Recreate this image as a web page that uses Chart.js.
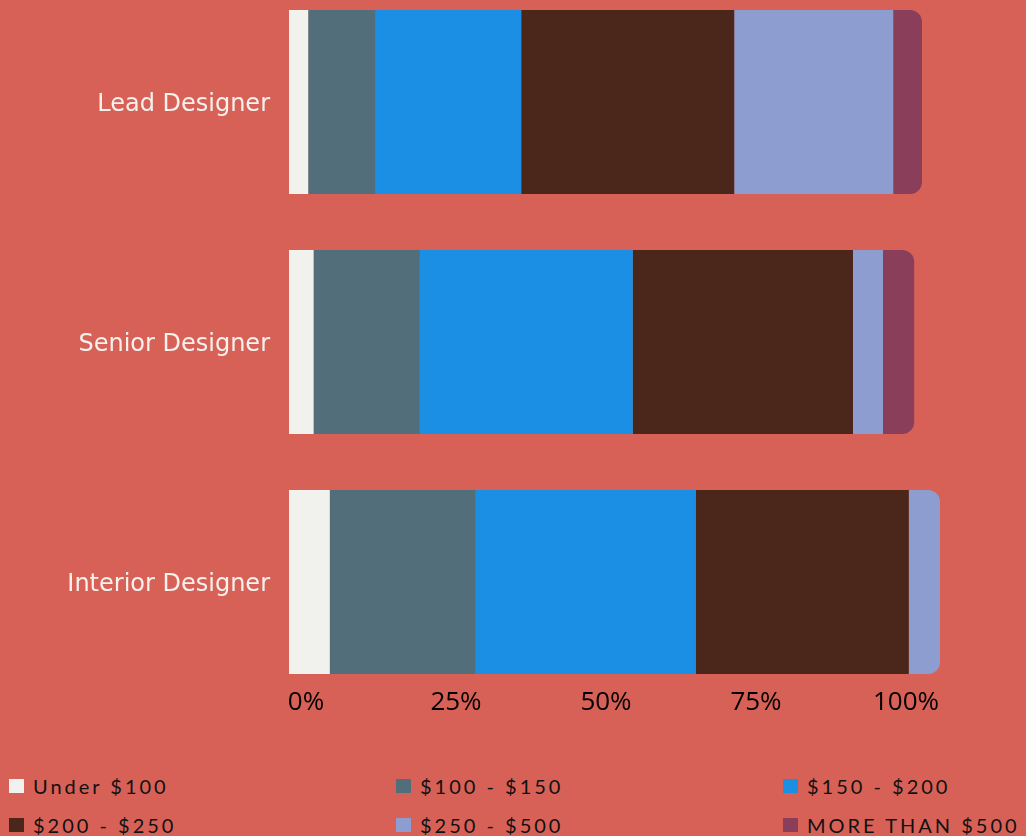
<!DOCTYPE html>
<html>
<head>
<meta charset="utf-8">
<script src="https://cdn.jsdelivr.net/npm/chart.js@4.4.1/dist/chart.umd.min.js"></script>
<style>
  html, body { margin: 0; padding: 0; background: #d86157; width: 1026px; height: 836px; overflow: hidden; }
  #wrap { position: absolute; left: 0; top: -18px; width: 1026px; height: 760px; }
  #legend { position: absolute; left: 9px; top: 766px; display: grid; grid-template-columns: 387px 387px 240px; }
  .item { display: flex; align-items: center; height: 39px; font-family: Lato, sans-serif; font-size: 20px; letter-spacing: 3px; color: #111; white-space: nowrap; }
  .box { width: 15px; height: 14px; margin-right: 9px; flex: none; }
</style>
</head>
<body>
<div id="wrap"><canvas id="rateChart"></canvas></div>
<div id="legend"></div>
<script>
const roles = ['Lead Designer', 'Senior Designer', 'Interior Designer'];
const rangeNames = ['Under $100', '$100 - $150', '$150 - $200', '$200 - $250', '$250 - $500', 'MORE THAN $500'];
const rangeColors = ['#f1f1ed', '#526e7a', '#1b8fe3', '#4b261b', '#8d9dcf', '#8a3e5a'];

// share of each role per price range
const under100 = [3.2, 4.1, 6.8];
const from100to150 = [11.2, 17.7, 24.3];
const from150to200 = [24.3, 35.5, 36.7];
const from200to250 = [35.5, 36.7, 35.5];
const from250to500 = [26.5, 5.0, 5.2];
const over500 = [4.8, 5.2, 0];

const xTicks = [0, 25, 50, 75, 100];

const seriesValues = [under100, from100to150, from150to200, from200to250, from250to500, over500];

const rowTotals = roles.map((r, i) => seriesValues.reduce((s, arr) => s + arr[i], 0));
const xMax = Math.max(...rowTotals);

// last non-empty segment of each row gets the rounded end
function lastSegment(row) {
  let last = 0;
  seriesValues.forEach((arr, k) => { if (arr[row] > 0) last = k; });
  return last;
}

const ctx = document.getElementById('rateChart').getContext('2d');

const rateChart = new Chart(ctx, {
  type: 'bar',
  data: {
    labels: roles,
    datasets: rangeNames.map((name, k) => ({
      label: name,
      data: seriesValues[k],
      backgroundColor: rangeColors[k],
      borderWidth: 0,
      borderRadius: c => (c.datasetIndex === lastSegment(c.dataIndex) ? 12 : 0),
      borderSkipped: 'start',
      barPercentage: 0.7667,
      categoryPercentage: 1
    }))
  },
  options: {
    indexAxis: 'y',
    responsive: true,
    maintainAspectRatio: false,
    animation: false,
    layout: { padding: { left: 0, right: 86, top: 0, bottom: 0 } },
    plugins: {
      legend: { display: false },
      tooltip: { enabled: false },
    },
    scales: {
      x: {
        stacked: true,
        min: 0,
        max: xMax,
        afterFit: s => { s.height = 40; },
        afterBuildTicks: s => { s.ticks = xTicks.map(v => ({ value: v })); },
        grid: { display: false, drawTicks: false },
        border: { display: false },
        ticks: {
          mirror: true,
          padding: -16,
          labelOffset: 17,
          color: '#000',
          font: { family: 'Open Sans', size: 26 },
          callback: v => v + '%',
        },
      },
      y: {
        stacked: true,
        afterFit: s => { s.width = 289; s.paddingTop = 0; s.paddingBottom = 0; },
        grid: { display: false, drawTicks: false },
        border: { display: false },
        ticks: {
          padding: 19,
          labelOffset: 3,
          color: '#f5f1ec',
          font: { family: 'DejaVu Sans', size: 24 },
        },
      },
    },
  },
});

// html legend in a three column grid
const legend_el = document.getElementById('legend');
rateChart.data.datasets.forEach(ds => {
  const item = document.createElement('div');
  item.className = 'item';
  const box = document.createElement('span');
  box.className = 'box';
  box.style.background = ds.backgroundColor;
  item.appendChild(box);
  item.appendChild(document.createTextNode(ds.label));
  legend_el.appendChild(item);
});
</script>
</body>
</html>
